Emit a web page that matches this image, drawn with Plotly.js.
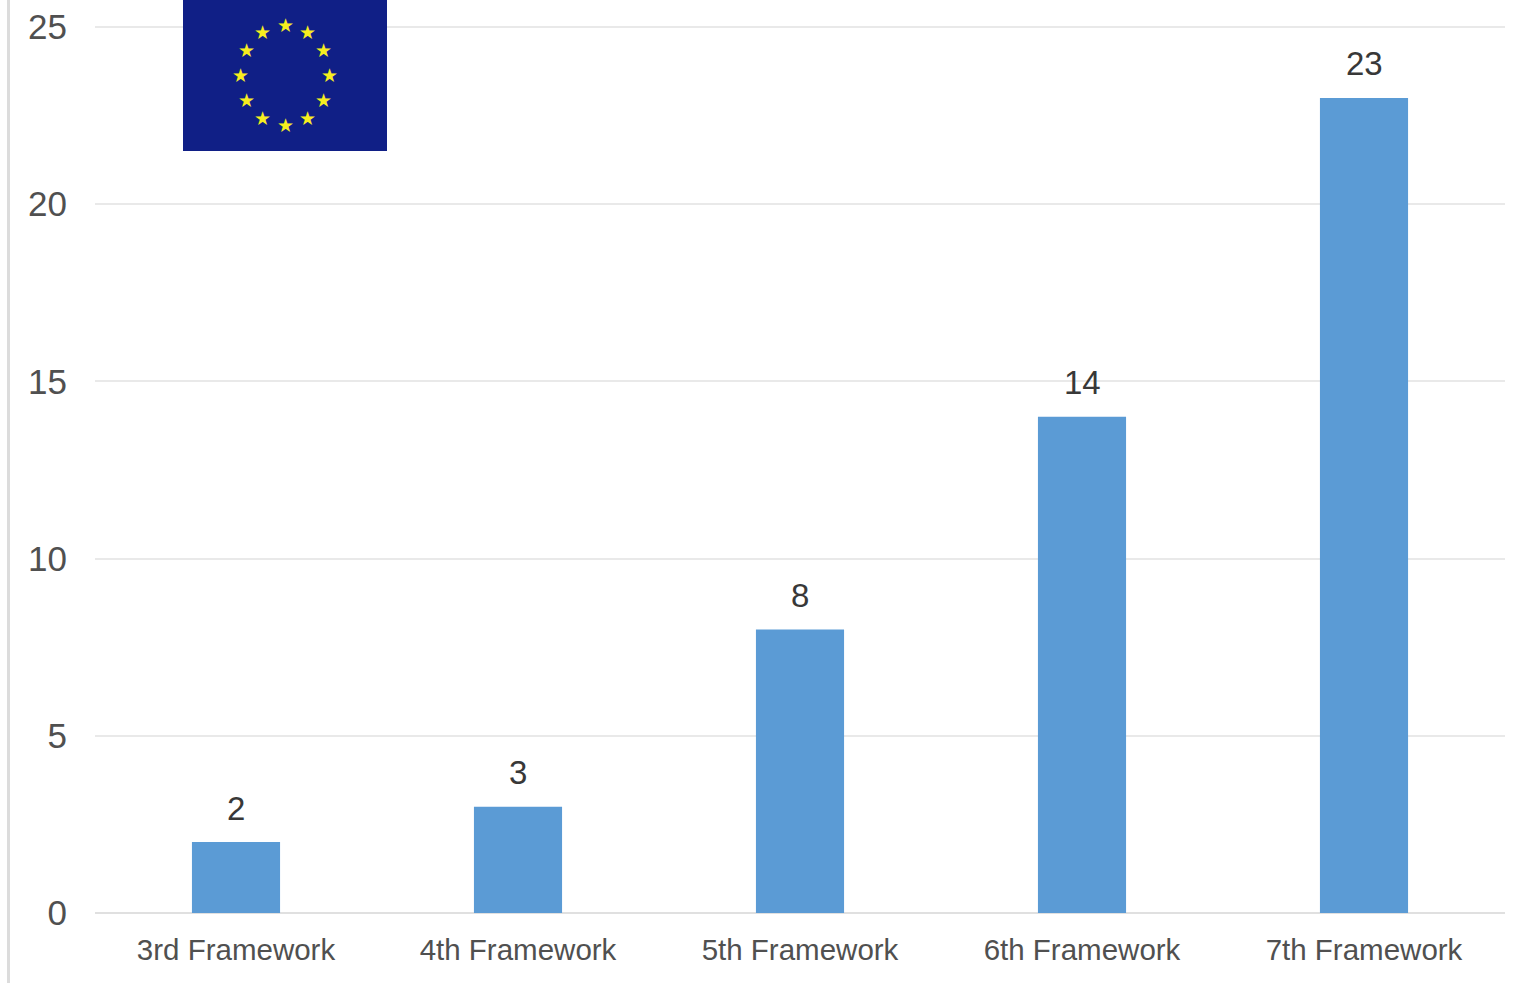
<!DOCTYPE html>
<html>
<head>
<meta charset="utf-8">
<script src="https://cdn.plot.ly/plotly-3.0.1.min.js"></script>
<style>html,body{margin:0;padding:0;background:#fff;overflow:hidden}#chart{width:1525px;height:983px}</style>
</head>
<body>
<div id="chart"></div>
<script>
const categories = ["3rd Framework", "4th Framework", "5th Framework", "6th Framework", "7th Framework"];
const projects = [2, 3, 8, 14, 23];
const yTicks = [0, 5, 10, 15, 20, 25];

const W = 1525, H = 983, L = 95, R = 20, T = 0, B = 70;
const pw = W - L - R, ph = H - T - B;
const px = x => (x - L) / pw;
const py = y => (H - B - y) / ph;

const shapes = [
  {type: "rect", xref: "paper", yref: "paper", x0: px(183), x1: px(387), y0: py(151), y1: py(-5),
   fillcolor: "#101f86", line: {width: 0}, layer: "above"},
  {type: "line", xref: "paper", yref: "paper", x0: px(8.5), x1: px(8.5), y0: py(983), y1: py(0),
   line: {color: "#dcdcdc", width: 3}}
];

const annotations = categories.map((c, i) => ({
  x: c, y: projects[i], xref: "x", yref: "y", text: String(projects[i]), showarrow: false,
  yanchor: "bottom", yshift: 13.5, font: {family: "Liberation Sans, Arial, sans-serif", size: 33, color: "#383838"}
}));
for (let k = 0; k < 12; k++) {
  const a = k * Math.PI / 6;
  annotations.push({
    xref: "paper", yref: "paper", x: px(285 + 44.5 * Math.sin(a)), y: py(75 - 50 * Math.cos(a)),
    text: "★", showarrow: false, xanchor: "center", yanchor: "middle",
    font: {family: "DejaVu Sans, sans-serif", size: 19, color: "#f7ee1f"}
  });
}

Plotly.newPlot("chart", [{
  type: "bar", x: categories, y: projects, width: 0.3125,
  marker: {color: "#5b9bd5", line: {width: 0}}, hoverinfo: "x+y"
}], {
  width: W, height: H, showlegend: false,
  paper_bgcolor: "#fff", plot_bgcolor: "#fff",
  margin: {l: L, r: R, t: T, b: B, pad: 0},
  xaxis: {type: "category", categoryorder: "array", categoryarray: categories, showgrid: false,
    showline: false, zeroline: false, ticks: "", ticklen: 0, ticklabelstandoff: 16,
    tickfont: {family: "Liberation Sans, Arial, sans-serif", size: 29.5, color: "#505050"}},
  yaxis: {range: [0, 25.762], tickmode: "array", tickvals: yTicks, ticktext: yTicks.map(String),
    showgrid: true, gridcolor: "#e9e9e9", gridwidth: 2, zeroline: true, zerolinecolor: "#e0e0e0", zerolinewidth: 2,
    showline: false, ticks: "", ticklabelstandoff: 27,
    tickfont: {family: "Liberation Sans, Arial, sans-serif", size: 35, color: "#505050"}},
  shapes, annotations
}, {displayModeBar: false, responsive: false});
</script>
</body>
</html>
